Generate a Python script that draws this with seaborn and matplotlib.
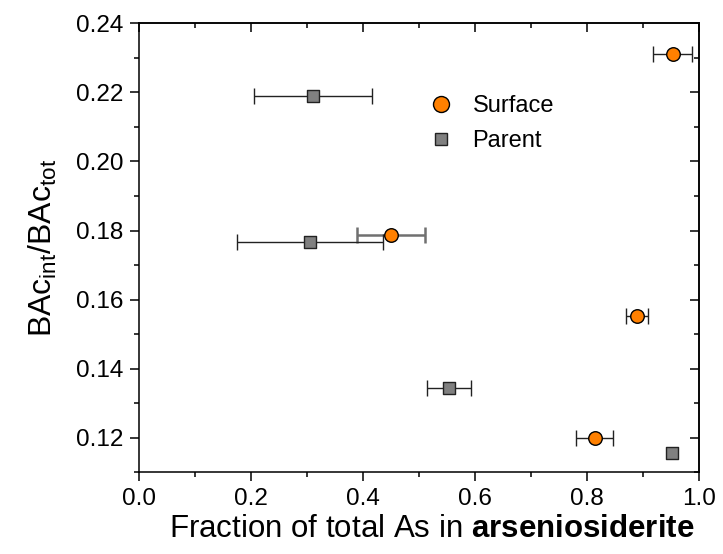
import matplotlib
matplotlib.use("Agg")
import matplotlib.pyplot as plt
from matplotlib.lines import Line2D
import seaborn as sns
import pandas as pd

# Data
surface_x = [0.9525, 0.449, 0.889, 0.813]
surface_y = [0.2311, 0.1787, 0.1553, 0.1199]
surface_xerr = [0.035, 0.061, 0.020, 0.033]

parent_x = [0.310, 0.305, 0.553, 0.952]
parent_y = [0.2190, 0.1766, 0.1344, 0.1155]
parent_xerr = [0.105, 0.131, 0.039, 0.0]

sns.set_style("ticks")
plt.rcParams['font.family'] = ['Liberation Sans', 'DejaVu Sans']
plt.rcParams['mathtext.fontset'] = 'custom'
plt.rcParams['mathtext.rm'] = 'Liberation Sans'
plt.rcParams['mathtext.it'] = 'Liberation Sans:italic'
plt.rcParams['mathtext.bf'] = 'Liberation Sans:bold'
plt.rcParams['text.color'] = 'black'
plt.rcParams['axes.labelcolor'] = 'black'

fig = plt.figure(figsize=(7.23, 5.54), dpi=100)
ax = fig.add_axes([139.3/723, 1-472.3/554, 560/723, 449/554])

df_s = pd.DataFrame({"x": surface_x, "y": surface_y})
df_p = pd.DataFrame({"x": parent_x, "y": parent_y})

# error bars
s_err_colors = ['#222222', '#707070', '#222222', '#222222']
s_err_lw = [1.0, 1.8, 1.0, 1.0]
for x, y, e, c, lw in zip(surface_x, surface_y, surface_xerr, s_err_colors, s_err_lw):
    ax.errorbar(x, y, xerr=e, fmt='none', ecolor=c, elinewidth=lw,
                capsize=6, capthick=lw, zorder=2)
for x, y, e in zip(parent_x, parent_y, parent_xerr):
    if e > 0:
        ax.errorbar(x, y, xerr=e, fmt='none', ecolor='#222222', elinewidth=1.0,
                    capsize=6, capthick=1.0, zorder=2)

sns.scatterplot(data=df_s, x="x", y="y", ax=ax, marker='o', s=95,
                color='#FF8000', edgecolor='black', linewidth=1.0, zorder=3)
sns.scatterplot(data=df_p, x="x", y="y", ax=ax, marker='s', s=70,
                color='#808080', edgecolor='#222222', linewidth=1.0, zorder=3)

ax.set_xlim(0.0, 1.0)
ax.set_ylim(0.11, 0.24)
ax.set_xticks([0.0, 0.2, 0.4, 0.6, 0.8, 1.0])
ax.set_xticklabels(['0.0', '0.2', '0.4', '0.6', '0.8', '1.0'])
ax.set_xticks([0.1, 0.3, 0.5, 0.7, 0.9], minor=True)
ax.set_yticks([0.12, 0.14, 0.16, 0.18, 0.20, 0.22, 0.24])
ax.set_yticklabels(['0.12', '0.14', '0.16', '0.18', '0.20', '0.22', '0.24'])
ax.set_yticks([0.11, 0.13, 0.15, 0.17, 0.19, 0.21, 0.23], minor=True)

for sp in ax.spines.values():
    sp.set_visible(True)
    sp.set_linewidth(1.1)
    sp.set_color('black')

ax.tick_params(axis='both', which='major', direction='out', length=6.5, width=1.1,
               labelsize=17.5, colors='black', labelcolor='black', pad=5)
ax.tick_params(axis='both', which='minor', direction='out', length=3.5, width=1.1,
               colors='black')
axt = ax.secondary_xaxis('top')
axt.set_xticks([0.0, 0.2, 0.4, 0.6, 0.8, 1.0])
axt.set_xticks([0.1, 0.3, 0.5, 0.7, 0.9], minor=True)
axt.tick_params(which='major', direction='in', length=6.5, width=1.1, labeltop=False,
                colors='black')
axt.tick_params(which='minor', direction='in', length=3.5, width=1.1, colors='black')
axt.spines['top'].set_linewidth(1.1)
axt.spines['top'].set_color('black')
axr = ax.secondary_yaxis('right')
axr.set_yticks([0.12, 0.14, 0.16, 0.18, 0.20, 0.22, 0.24])
axr.set_yticks([0.11, 0.13, 0.15, 0.17, 0.19, 0.21, 0.23], minor=True)
axr.tick_params(which='major', direction='in', length=6.5, width=1.1, labelright=False,
                colors='black')
axr.tick_params(which='minor', direction='in', length=3.5, width=1.1, colors='black')
axr.spines['right'].set_linewidth(1.1)
axr.spines['right'].set_color('black')
ax.tick_params(axis='x', which='both', top=False)
ax.tick_params(axis='y', which='both', right=False)

ax.set_xlabel(r'Fraction of total As in $\mathbf{arseniosiderite}$', fontsize=22.5,
              labelpad=3, color='black', x=0.523)
ax.set_ylabel(r'BAc$_{\mathrm{int}}$/BAc$_{\mathrm{tot}}$', fontsize=23,
              labelpad=12, color='black')

handles = [
    Line2D([], [], linestyle='none', marker='o', markersize=11.5,
           markerfacecolor='#FF8000', markeredgecolor='black', markeredgewidth=1.0),
    Line2D([], [], linestyle='none', marker='s', markersize=8,
           markerfacecolor='#808080', markeredgecolor='#222222', markeredgewidth=1.0),
]
ax.legend(handles, ['Surface', 'Parent'], frameon=False, loc='upper left',
          bbox_to_anchor=(0.517, 0.84), fontsize=17, handlelength=1.0,
          handletextpad=0.85, labelspacing=0.55, borderpad=0, borderaxespad=0,
          labelcolor='black')

fig.savefig('out.png', dpi=100)
